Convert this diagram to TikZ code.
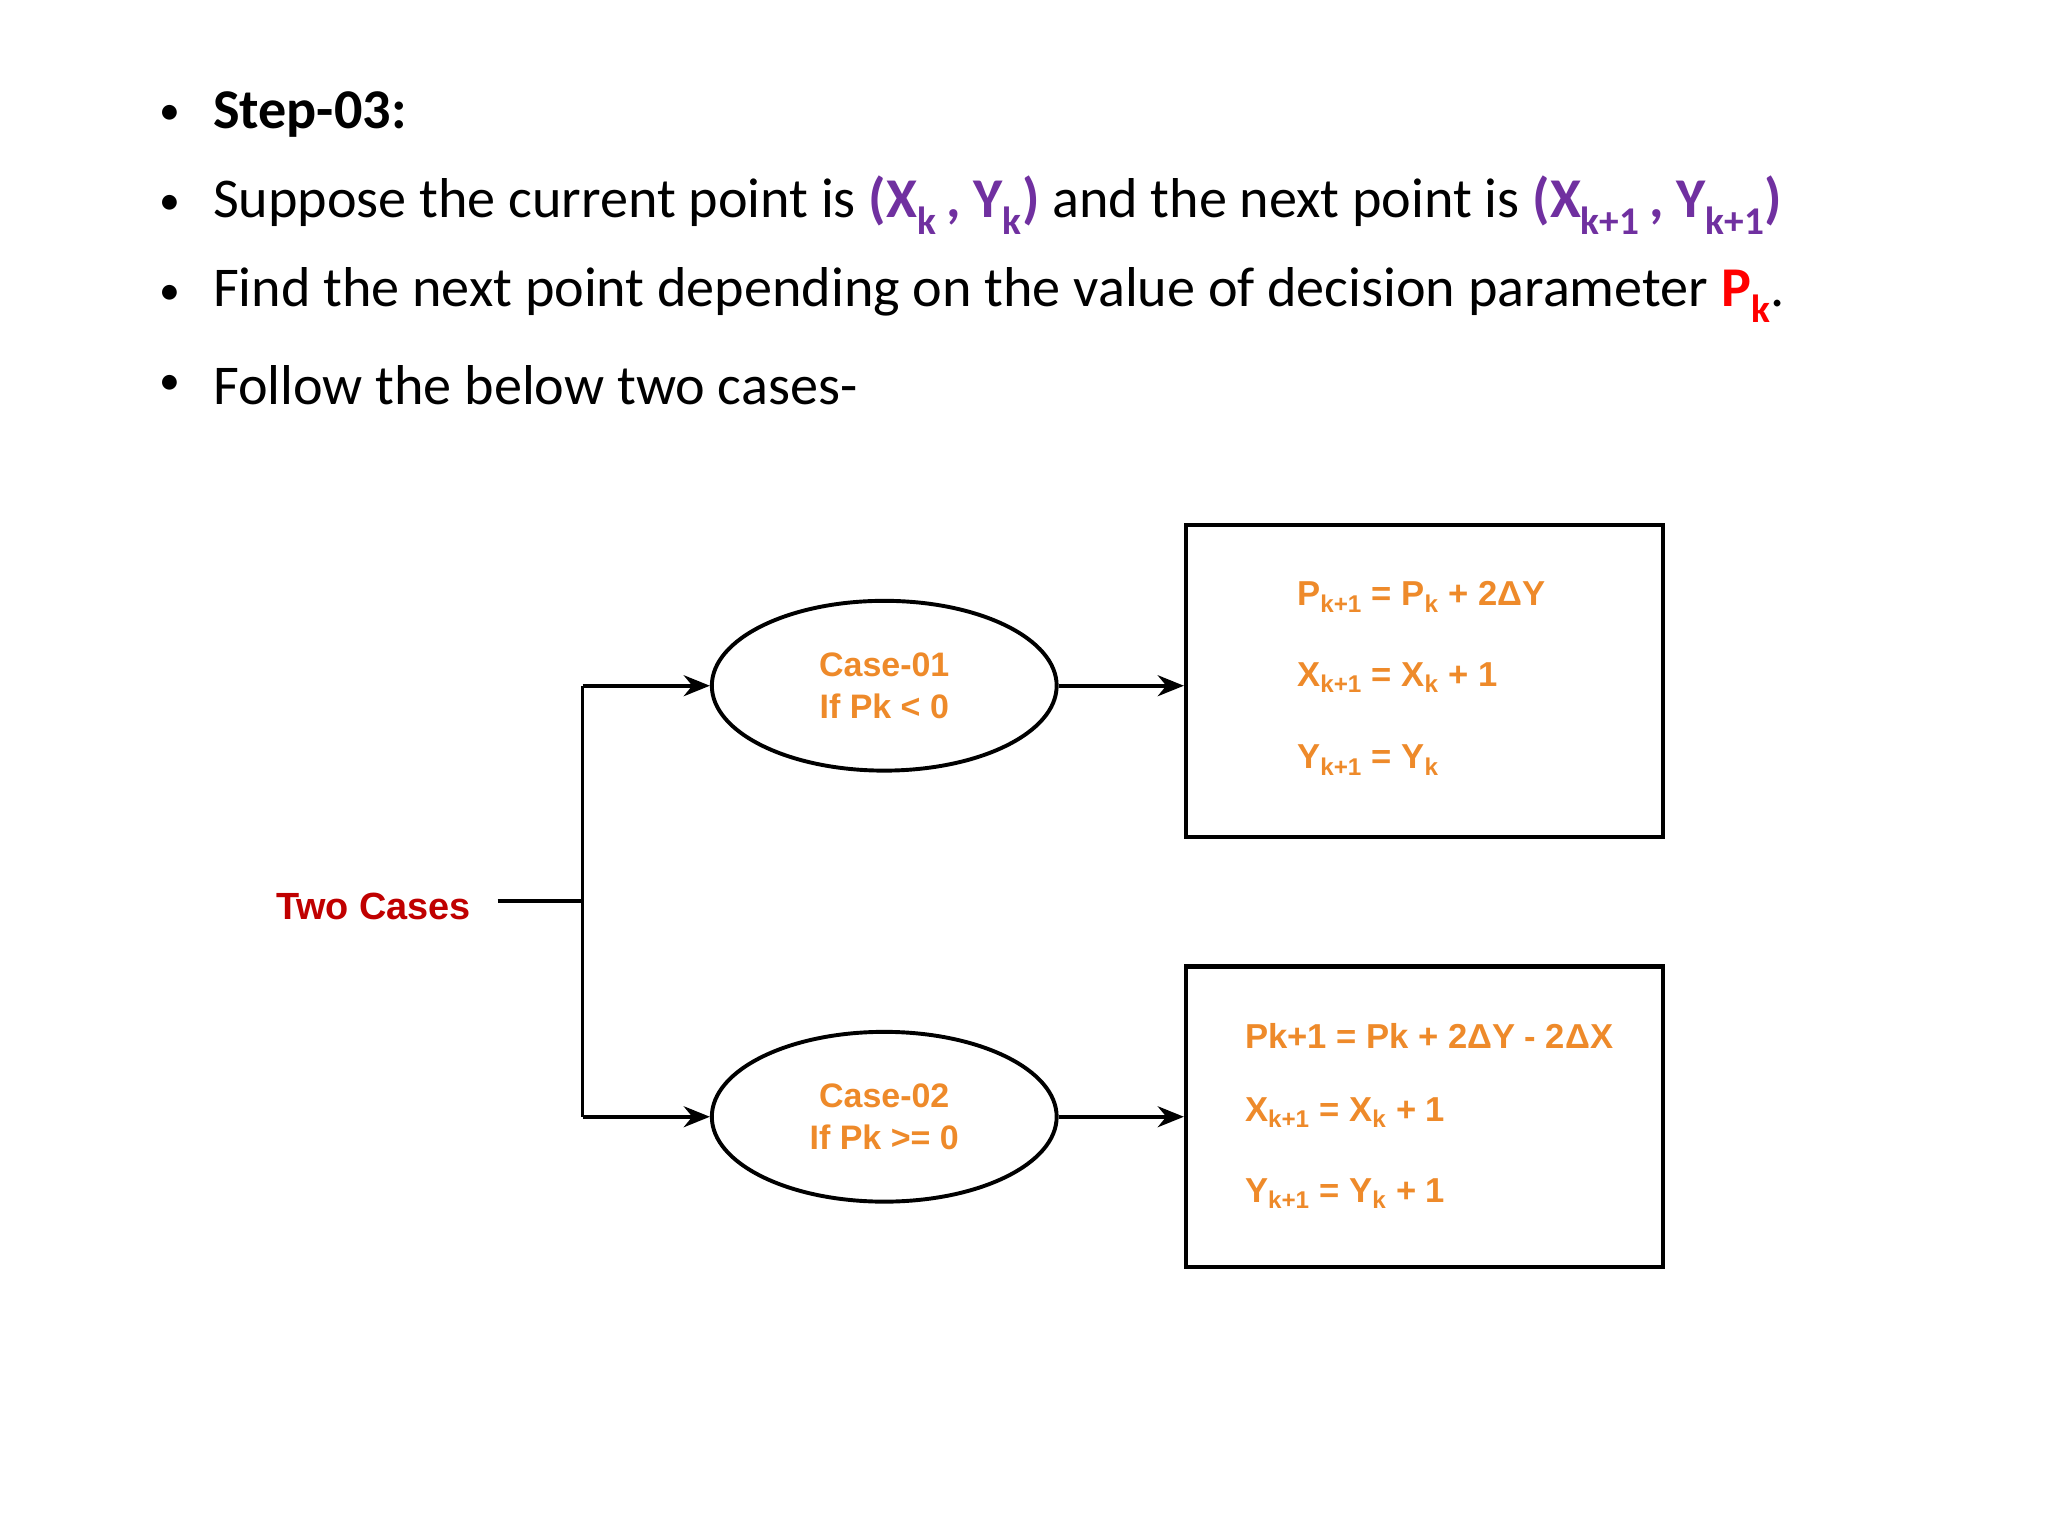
\documentclass[tikz,border=0pt]{standalone}
\usepackage{fontspec}
\setmainfont{Carlito}
\newfontfamily\diag{Liberation Sans}
\usetikzlibrary{arrows.meta,shapes.geometric}
\definecolor{org}{HTML}{EE8A2A}
\definecolor{pur}{HTML}{7030A0}
\definecolor{dred}{HTML}{C00000}
\begin{document}
\begin{tikzpicture}[x=1pt,y=-1pt,
  bul/.style={anchor=west,font=\fontsize{43}{48}\selectfont,inner sep=0},
  ell/.style={ellipse,draw,line width=3pt,minimum width=264,minimum height=130,align=center,text=org,font=\diag\bfseries\fontsize{26}{32}\selectfont},
  bx/.style={draw,line width=3.2pt,minimum width=365},
  eq/.style={anchor=west,text=org,font=\diag\bfseries\fontsize{26.5}{30}\selectfont,inner sep=0},
  arr/.style={line width=3pt,-{Stealth[length=20pt,width=16pt]}},
  ln/.style={line width=3pt}]
\useasboundingbox (0,0) rectangle (1568,1176);
\fill[white] (0,0) rectangle (1568,1176);
\foreach \y/\n in {88/b1,157/b2,226/b3,295/b4}{\node[bul,font=\fontsize{32}{36}\selectfont] (\n) at (122,\y) {•};}
\node[bul] (t1) at (163,88) {\textbf{Step-03:}};
\node[bul] (t2) at (163,157) {Suppose the current point is \textcolor{pur}{\textbf{(X\textsubscript{k}\,, Y\textsubscript{k})}} and the next point is \textcolor{pur}{\textbf{(X\textsubscript{k+1}\,, Y\textsubscript{k+1})}}};
\node[bul] (t3) at (163,226) {Find the next point depending on the value of decision parameter \textcolor{red}{\textbf{P\textsubscript{k}}}.};
\node[bul] (t4) at (163,295) {Follow the below two cases-};
\node[bx,minimum height=239] (B1) at (1090.5,521.5) {};
\node[bx,minimum height=230] (B2) at (1090.5,855) {};
\node[ell] (E1) at (677,525) {Case-01\\If Pk < 0};
\node[ell] (E2) at (677,855) {Case-02\\If Pk >= 0};
\node[text=dred,font=\diag\bfseries\fontsize{29}{32}\selectfont] (TC) at (286,694) {Two Cases};
\coordinate (J) at (446,690);
\coordinate (J1) at (446,525);
\coordinate (J2) at (446,855);
\draw[ln] (381,690) -- (J);
\draw[ln] (J1) -- (J2);
\draw[arr] (J1) -- (E1.west);
\draw[arr] (J2) -- (E2.west);
\draw[arr] (E1.east) -- (B1.west|-E1.east);
\draw[arr] (E2.east) -- (B2.west|-E2.east);
\node[eq] (a1) at (993,457) {P\textsubscript{k+1} = P\textsubscript{k} + 2ΔY};
\node[eq] (a2) at (993,519) {X\textsubscript{k+1} = X\textsubscript{k} + 1};
\node[eq] (a3) at (993,582) {Y\textsubscript{k+1} = Y\textsubscript{k}};
\node[eq] (c1) at (953,793) {Pk+1 = Pk + 2ΔY - 2ΔX};
\node[eq] (c2) at (953,852) {X\textsubscript{k+1} = X\textsubscript{k} + 1};
\node[eq] (c3) at (953,914) {Y\textsubscript{k+1} = Y\textsubscript{k} + 1};
\end{tikzpicture}
\end{document}
